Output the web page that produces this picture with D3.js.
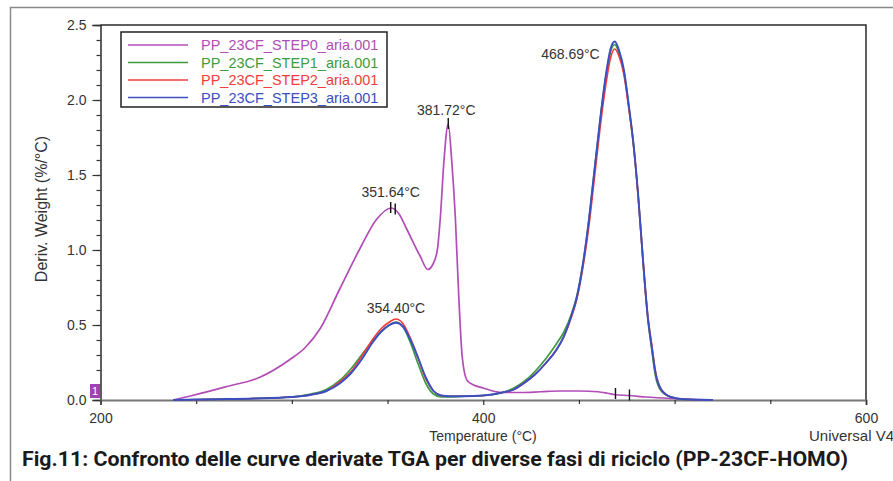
<!DOCTYPE html>
<html>
<head>
<meta charset="utf-8">
<script src="https://cdn.jsdelivr.net/npm/d3@7"></script>
<style>
  body { margin: 0; background: #fff; }
  svg { display: block; font-family: "Liberation Sans", Arimo, Arial, sans-serif; }
</style>
</head>
<body>
<div class="chart"></div>
<script>
const WIDTH = 893;
const HEIGHT = 481;

// series names + colours
const seriesNames = ["PP_23CF_STEP0_aria.001", "PP_23CF_STEP1_aria.001", "PP_23CF_STEP2_aria.001", "PP_23CF_STEP3_aria.001"];
const seriesColors = ["#b24db6", "#3e9b3e", "#f23c3c", "#3a4fc2"];

// STEP0 (first pass, two-step degradation)
const step0Temp = [238, 248, 266, 283, 299, 307, 315, 325, 336, 344, 352, 356, 360, 367, 371, 373.5, 376, 377.6, 379.5, 381.7, 383.5, 385.4, 387, 389, 391.6, 395, 400, 405, 410, 420, 430, 440, 450, 460, 465, 469, 476, 485, 498, 520];
const step0Deriv = [0, 0.03, 0.09, 0.15, 0.27, 0.35, 0.48, 0.74, 1.02, 1.2, 1.28, 1.24, 1.14, 0.96, 0.87, 0.9, 1.0, 1.22, 1.6, 1.84, 1.6, 1.22, 0.75, 0.29, 0.13, 0.1, 0.08, 0.06, 0.05, 0.05, 0.055, 0.06, 0.06, 0.055, 0.045, 0.035, 0.03, 0.02, 0.01, 0];

// STEP1..STEP3 share the same temperature grid
const stepTemp = [238, 260, 280, 300, 310, 318, 325, 331, 337, 342, 347, 351, 354.4, 358, 362, 366, 370, 374, 378, 382, 390, 400, 410, 416, 421, 427, 433, 438, 442, 446, 449, 452, 455, 458, 461, 464, 466.5, 468.7, 471, 473.5, 476, 478.5, 481, 483.5, 486, 488, 490, 493, 498, 505, 520];
const step1Deriv = [0, 0.005, 0.01, 0.02, 0.04, 0.07, 0.13, 0.21, 0.31, 0.39, 0.46, 0.5, 0.52, 0.49, 0.38, 0.24, 0.11, 0.04, 0.02, 0.02, 0.025, 0.03, 0.05, 0.08, 0.12, 0.19, 0.28, 0.37, 0.45, 0.57, 0.7, 0.9, 1.18, 1.52, 1.86, 2.15, 2.32, 2.37, 2.31, 2.19, 1.96, 1.7, 1.35, 0.92, 0.54, 0.34, 0.16, 0.06, 0.02, 0.005, 0];
const step2Deriv = [0, 0.005, 0.01, 0.02, 0.035, 0.06, 0.12, 0.19, 0.3, 0.4, 0.48, 0.52, 0.54, 0.51, 0.41, 0.28, 0.14, 0.06, 0.03, 0.025, 0.025, 0.03, 0.05, 0.07, 0.11, 0.17, 0.25, 0.33, 0.42, 0.55, 0.68, 0.88, 1.14, 1.47, 1.81, 2.1, 2.28, 2.34, 2.29, 2.17, 1.95, 1.7, 1.35, 0.93, 0.56, 0.37, 0.19, 0.07, 0.02, 0.005, 0];
const step3Deriv = [0, 0.005, 0.01, 0.02, 0.035, 0.06, 0.11, 0.18, 0.28, 0.38, 0.46, 0.5, 0.515, 0.49, 0.4, 0.28, 0.15, 0.06, 0.03, 0.025, 0.025, 0.03, 0.05, 0.07, 0.11, 0.17, 0.25, 0.33, 0.42, 0.56, 0.69, 0.9, 1.18, 1.52, 1.86, 2.16, 2.34, 2.39, 2.33, 2.2, 1.97, 1.71, 1.36, 0.93, 0.55, 0.36, 0.18, 0.07, 0.02, 0.005, 0];

// peak labels
const peakLabels = [
  { text: "351.64°C", t: 351.64, v: 1.28, dx: 0, dy: -11, anchor: "middle" },
  { text: "381.72°C", t: 381.72, v: 1.84, dx: -2, dy: -9, anchor: "middle" },
  { text: "354.40°C", t: 354.40, v: 0.53, dx: 0, dy: -8, anchor: "middle" },
  { text: "468.69°C", t: 468.69, v: 2.39, dx: -15, dy: 17, anchor: "end" },
];
// small vertical markers left by the analysis software
const peakMarks = [
  { t: 381.72, v: 1.84 },
  { t: 351.64, v: 1.28 },
  { t: 354.0, v: 1.27 },
  { t: 469.1, v: 0.04 },
  { t: 476.4, v: 0.03 },
];

const yTicks = [0, 0.5, 1.0, 1.5, 2.0, 2.5];
const yMinor = d3.range(0, 2.51, 0.1);
const xTicks = [200, 400, 600];
const xMinor = [250, 300, 350, 450, 500, 550];

const svg = d3.select(".chart").append("svg")
  .attr("width", WIDTH)
  .attr("height", HEIGHT);

svg.append("rect").attr("width", WIDTH).attr("height", HEIGHT).attr("fill", "#fff");

// outer frame (runs past the right/bottom edge)
svg.append("rect")
  .attr("x", 10.5).attr("y", 7.5)
  .attr("width", 900).attr("height", 500)
  .attr("fill", "none")
  .attr("stroke", "#8a8a8a")
  .attr("stroke-width", 1.5);

const x = d3.scaleLinear().domain([200, 600]).range([100.5, 866]);
const y = d3.scaleLinear().domain([0, 2.5]).range([400, 25]);

// frame top + right
svg.append("path")
  .attr("d", `M${x(200)},${y(2.5)}H${x(600)}V${y(0)}`)
  .attr("fill", "none")
  .attr("stroke", "#2a2a2a")
  .attr("stroke-width", 1.5);

// y axis
const yAxis = svg.append("g")
  .attr("transform", `translate(${x(200)},0)`)
  .call(d3.axisLeft(y).tickValues(yTicks).tickFormat(d3.format(".1f")).tickSize(8).tickPadding(6));
svg.append("g")
  .attr("transform", `translate(${x(200)},0)`)
  .call(d3.axisLeft(y).tickValues(yMinor).tickFormat("").tickSize(4))
  .select(".domain").remove();

// x axis
const xAxis = svg.append("g")
  .attr("transform", `translate(0,${y(0)})`)
  .call(d3.axisBottom(x).tickValues(xTicks).tickFormat(d3.format("d")).tickSize(5).tickPadding(8));
svg.append("g")
  .attr("transform", `translate(0,${y(0)})`)
  .call(d3.axisBottom(x).tickValues(xMinor).tickFormat("").tickSize(4))
  .select(".domain").remove();

svg.selectAll(".tick text")
  .attr("font-size", "14px")
  .attr("fill", "#333")
  .attr("font-family", "'Liberation Sans', Arimo, Arial, sans-serif");
svg.selectAll(".tick line").attr("stroke", "#333").attr("stroke-width", 1.2);
yAxis.select(".domain").attr("stroke", "#2a2a2a").attr("stroke-width", 1.5);
xAxis.select(".domain").attr("stroke", "#777").attr("stroke-width", 2);

// curves
const line = d3.line()
  .x((d) => x(d[0]))
  .y((d) => y(d[1]))
  .curve(d3.curveMonotoneX);

const curves = [
  d3.zip(step0Temp, step0Deriv),
  d3.zip(stepTemp, step1Deriv),
  d3.zip(stepTemp, step2Deriv),
  d3.zip(stepTemp, step3Deriv),
];

svg.append("g")
  .selectAll("path")
  .data(curves)
  .join("path")
  .attr("d", line)
  .attr("fill", "none")
  .attr("stroke", (d, i) => seriesColors[i])
  .attr("stroke-width", (d, i) => i === 3 ? 1.9 : 1.7);

// peak marks
svg.append("g")
  .selectAll("line")
  .data(peakMarks)
  .join("line")
  .attr("x1", (d) => x(d.t)).attr("x2", (d) => x(d.t))
  .attr("y1", (d) => y(d.v) - 6).attr("y2", (d) => y(d.v) + 5)
  .attr("stroke", "#111")
  .attr("stroke-width", 1.4);

// peak labels
svg.append("g")
  .selectAll("text")
  .data(peakLabels)
  .join("text")
  .attr("x", (d) => x(d.t) + d.dx)
  .attr("y", (d) => y(d.v) + d.dy)
  .attr("text-anchor", (d) => d.anchor)
  .attr("font-size", "14px")
  .attr("fill", "#333")
  .text((d) => d.text);

// legend
const legend = svg.append("g").attr("transform", "translate(121,32)");
legend.append("rect")
  .attr("width", 266).attr("height", 75)
  .attr("fill", "#fff")
  .attr("stroke", "#222")
  .attr("stroke-width", 1.5);
const rows = legend.selectAll("g")
  .data(seriesNames)
  .join("g")
  .attr("transform", (d, i) => `translate(0,${13 + i * 17.5})`);
rows.append("line")
  .attr("x1", 7).attr("x2", 67)
  .attr("stroke", (d, i) => seriesColors[i])
  .attr("stroke-width", 1.7);
rows.append("text")
  .attr("x", 80).attr("dy", "0.36em")
  .attr("font-size", "14.5px")
  .attr("fill", (d, i) => seriesColors[i])
  .text((d) => d);

// curve number badge
svg.append("rect")
  .attr("x", 90).attr("y", 384)
  .attr("width", 10).attr("height", 14)
  .attr("fill", "#a442b0");
svg.append("text")
  .attr("x", 95).attr("y", 395)
  .attr("text-anchor", "middle")
  .attr("font-size", "11px")
  .attr("fill", "#fff")
  .text("1");

// axis titles
svg.append("text")
  .attr("x", 483).attr("y", 441)
  .attr("text-anchor", "middle")
  .attr("font-size", "14px")
  .attr("fill", "#333")
  .text("Temperature (°C)");

svg.append("text")
  .attr("transform", "translate(47,209) rotate(-90)")
  .attr("text-anchor", "middle")
  .attr("font-size", "16px")
  .attr("fill", "#333")
  .text("Deriv. Weight (%/°C)");

svg.append("text")
  .attr("x", 809).attr("y", 441)
  .attr("font-size", "15px")
  .attr("fill", "#333")
  .text("Universal V4");

// caption
svg.append("text")
  .attr("x", 22).attr("y", 466)
  .attr("font-family", "'Liberation Sans Narrow', 'Roboto', sans-serif")
  .attr("font-weight", "bold")
  .attr("font-size", "21px")
  .attr("fill", "#1a1a1a")
  .attr("textLength", 826)
  .attr("lengthAdjust", "spacingAndGlyphs")
  .text("Fig.11: Confronto delle curve derivate TGA per diverse fasi di riciclo (PP-23CF-HOMO)");
</script>
</body>
</html>
